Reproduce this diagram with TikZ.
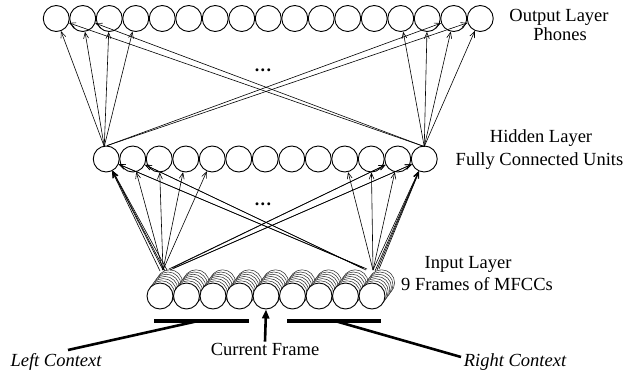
\documentclass[tikz,border=0pt]{standalone}
\usepackage{fontspec}
\setmainfont{Liberation Serif}
\usetikzlibrary{arrows.meta,calc}
\begin{document}
\begin{tikzpicture}[x=1pt,y=-1pt,
  unit/.style={circle, draw, line width=0.9pt, minimum size=26pt, inner sep=0pt, fill=white},
  backunit/.style={line width=0.55pt, draw=black!80, fill=white},
  conn/.style={line width=0.6pt, -{Straight Barb[length=6pt,width=5pt]}},
  lbl/.style={font=\fontsize{18.5}{22}\selectfont, inner sep=0pt, anchor=base},
  bar/.style={line width=4pt},
  pointer/.style={line width=2.6pt}]
\useasboundingbox (0,0) rectangle (631,377);

% output layer
\foreach \i in {1,...,17}
  \node[unit] (o\i) at ({56.25+26.5*(\i-1)},18.5) {};
% hidden layer
\foreach \i in {1,...,13}
  \node[unit] (h\i) at ({106.25+26.5*(\i-1)},159) {};
% input layer: stacked frames
\foreach \k in {6,5,4,3,2,1}
  \foreach \i in {1,...,9}
    \draw[backunit] ({160+26.5*(\i-1)+1.6*\k},{296-2.2*\k}) circle (13);
\foreach \i in {1,...,9}
  \node[unit] (in\i) at ({160+26.5*(\i-1)},296) {};

% ellipses
\node[inner sep=0pt, font=\fontsize{18}{20}\selectfont\bfseries] (dotsO) at (263,70) {.\kern1.5pt.\kern1.5pt.};
\node[inner sep=0pt, font=\fontsize{18}{20}\selectfont\bfseries] (dotsH) at (263,204) {.\kern1.5pt.\kern1.5pt.};

% hidden -> output
\coordinate (hl) at ($(h1.north)+(-2,1)$);
\coordinate (hr) at ($(h13.north)+(0,1)$);
\foreach \t in {1,...,4} \draw[conn] (hl) -- (o\t);
\draw[conn] ($(h1.north)+(1,0)$) -- (o16);
\draw[conn] ($(h1.north)+(1,0)$) -- (o17);
\foreach \t in {14,...,17} \draw[conn] (hr) -- (o\t);
\draw[conn] (hr) -- (o1);
\draw[conn] (hr) -- (o2);

% input -> hidden
\coordinate (L) at (163,270);
\coordinate (R) at (373,270);
\foreach \t in {1,...,5} \draw[conn] (L) -- (h\t);
\draw[conn] ($(L)+(-3,1)$) -- (h1);
\draw[conn] ($(L)+(2,1)$) -- (h1);
\draw[conn] ($(L)+(4,0)$) -- (h1);
\draw[conn] ($(L)+(6,-1)$) -- (h12);
\draw[conn] ($(L)+(9,-2)$) -- (h12);
\draw[conn] ($(L)+(7,0)$) -- (h13);
\draw[conn] ($(L)+(11,-2)$) -- (h13);
\foreach \t in {10,...,13} \draw[conn] (R) -- (h\t);
\draw[conn] ($(R)+(2,1)$) -- (h13);
\draw[conn] ($(R)+(4,0)$) -- (h13);
\draw[conn] ($(R)+(6,-1)$) -- (h13);
\draw[conn] ($(R)+(-6,-1)$) -- (h1);
\draw[conn] ($(R)+(-9,-2)$) -- (h1);
\draw[conn] ($(R)+(-7,0)$) -- (h2);
\draw[conn] ($(R)+(-11,-2)$) -- (h2);

% labels
\node[lbl] (outA) at (559,21.5) {Output Layer};
\node[lbl] (outB) at (560,40.5) {Phones};
\node[lbl] (hidA) at (541,142) {Hidden Layer};
\node[lbl] (hidB) at (539.5,165) {Fully Connected Units};
\node[lbl] (inA) at (468,268) {Input Layer};
\node[lbl] (inB) at (477,290) {9 Frames of MFCCs};
\node[lbl] (cf) at (265,355) {Current Frame};
\node[lbl, font=\fontsize{18.5}{22}\selectfont\itshape] (lc) at (56,366) {Left Context};
\node[lbl, font=\fontsize{18.5}{22}\selectfont\itshape] (rc) at (515,366) {Right Context};

% context bars and pointers
\coordinate (lb1) at (154,321);
\coordinate (lb2) at (249,321);
\coordinate (rb1) at (287,321);
\coordinate (rb2) at (381,321);
\draw[bar] (lb1) -- (lb2);
\draw[bar] (rb1) -- (rb2);
\coordinate (lbp) at (198,321);
\coordinate (lctip) at (68,350);
\coordinate (rbp) at (335,321);
\coordinate (rctip) at (461,357);
\draw[pointer] (lbp) -- (lctip);
\draw[pointer] (rbp) -- (rctip);
\draw[pointer, -{Triangle[length=9pt,width=7pt]}] ($(cf.north)+(0,-1)$) -- (in5.south);
\end{tikzpicture}
\end{document}
